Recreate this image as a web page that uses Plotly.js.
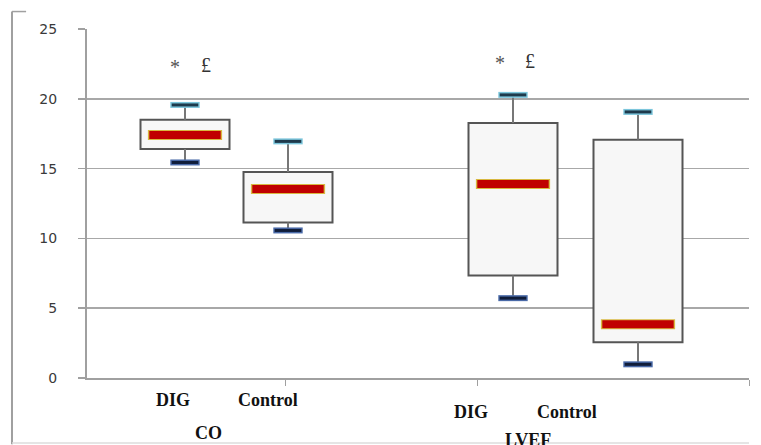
<!DOCTYPE html>
<html>
<head>
<meta charset="utf-8">
<script src="https://cdn.plot.ly/plotly-3.0.1.min.js"></script>
<style>html,body{margin:0;padding:0;background:#fff;}#chart{width:761px;height:445px;}</style>
</head>
<body>
<div id="chart"></div>
<script>
// ---- data ----
const groups = ['CO', 'LVEF'];
const categories = ['DIG', 'Control', 'DIG', 'Control'];
const upperWhisker = [19.56, 16.95, 20.28, 19.06];
const q3 = [18.5, 14.76, 18.27, 17.07];
const median = [17.4, 13.54, 13.9, 3.85];
const q1 = [16.4, 11.14, 7.34, 2.56];
const lowerWhisker = [15.44, 10.57, 5.72, 0.98];
const sigStar = ['*', '', '*', ''];
const sigPound = ['£', '', '£', ''];
const yTicks = [0, 5, 10, 15, 20, 25];

// ---- layout positions (not data) ----
const boxX = [0.98, 2.01, 4.26, 5.51];
const catLabelX = [0.86, 1.81, 3.84, 4.80];
const catLabelY = [-0.063, -0.063, -0.098, -0.098];
const groupLabelX = [1.21, 4.41];
const groupLabelY = [-0.158, -0.178];
const starX = [0.88, 0, 4.13, 0], starY = [0.892, 0, 0.904, 0];
const poundX = [1.187, 0, 4.43, 0], poundY = [0.898, 0, 0.907, 0];
const axisTickX = [1.987, 3.907, 6.62];

// whisker segments
const wx = [], wy = [];
boxX.forEach((x, i) => {
  wx.push(x, x, null, x, x, null);
  wy.push(lowerWhisker[i], q1[i], null, q3[i], upperWhisker[i], null);
});

const traces = [
  {
    type: 'bar', x: boxX, base: q1, y: q3.map((v, i) => v - q1[i]),
    width: 0.89,
    marker: {color: '#f7f7f7', line: {color: '#555555', width: 2}},
    hoverinfo: 'skip', showlegend: false
  },
  {
    type: 'scatter', mode: 'lines', x: wx, y: wy,
    line: {color: '#777777', width: 2}, hoverinfo: 'skip', showlegend: false
  },
  // caps: outline then core
  {type: 'scatter', mode: 'markers', x: boxX, y: upperWhisker, cliponaxis: false,
   marker: {symbol: 'line-ew', size: 21, line: {color: '#7cc6dc', width: 6}}, showlegend: false, hoverinfo: 'skip'},
  {type: 'scatter', mode: 'markers', x: boxX, y: upperWhisker, cliponaxis: false,
   marker: {symbol: 'line-ew', size: 19, line: {color: '#1e3a4c', width: 3}}, showlegend: false, hoverinfo: 'skip'},
  {type: 'scatter', mode: 'markers', x: boxX, y: lowerWhisker, cliponaxis: false,
   marker: {symbol: 'line-ew', size: 21, line: {color: '#4a6aa8', width: 6}}, showlegend: false, hoverinfo: 'skip'},
  {type: 'scatter', mode: 'markers', x: boxX, y: lowerWhisker, cliponaxis: false,
   marker: {symbol: 'line-ew', size: 19, line: {color: '#101d3a', width: 3}}, showlegend: false, hoverinfo: 'skip'},
  // median bars
  {type: 'scatter', mode: 'markers', x: boxX, y: median, cliponaxis: false,
   marker: {symbol: 'line-ew', size: 53, line: {color: '#d8b840', width: 10}}, showlegend: false, hoverinfo: 'skip'},
  {type: 'scatter', mode: 'markers', x: boxX, y: median, cliponaxis: false,
   marker: {symbol: 'line-ew', size: 51, line: {color: '#c00000', width: 8}}, showlegend: false, hoverinfo: 'skip'}
];

const annotations = [];
const labFont = {family: 'Liberation Serif, Times New Roman, serif', size: 18, color: '#111111'};
categories.forEach((c, i) => {
  annotations.push({text: '<b>' + c + '</b>', x: catLabelX[i], y: catLabelY[i], xref: 'x', yref: 'paper',
    showarrow: false, xanchor: 'center', yanchor: 'middle', font: labFont});
  if (sigStar[i]) annotations.push({text: sigStar[i], x: starX[i], y: starY[i], xref: 'x', yref: 'paper',
    showarrow: false, xanchor: 'center', yanchor: 'middle',
    font: {family: 'Liberation Serif, serif', size: 20, color: '#555555'}});
  if (sigPound[i]) annotations.push({text: sigPound[i], x: poundX[i], y: poundY[i], xref: 'x', yref: 'paper',
    showarrow: false, xanchor: 'center', yanchor: 'middle',
    font: {family: 'Liberation Serif, serif', size: 20, color: '#333333'}});
});
groups.forEach((g, i) => {
  annotations.push({text: '<b>' + g + '</b>', x: groupLabelX[i], y: groupLabelY[i], xref: 'x', yref: 'paper',
    showarrow: false, xanchor: 'center', yanchor: 'middle', font: labFont});
});

const layout = {
  width: 761, height: 445,
  margin: {l: 87, r: 12, t: 29, b: 67},
  paper_bgcolor: '#ffffff', plot_bgcolor: '#ffffff',
  barmode: 'overlay',
  showlegend: false,
  xaxis: {
    range: [0, 6.62], showgrid: false, zeroline: false,
    showline: true, linecolor: '#a0a0a0', linewidth: 2,
    tickmode: 'array', tickvals: axisTickX, ticks: 'outside', ticklen: 6, tickcolor: '#a0a0a0', tickwidth: 1,
    showticklabels: false, fixedrange: true
  },
  yaxis: {
    range: [0, 25], tickmode: 'array', tickvals: yTicks,
    showgrid: true, gridcolor: '#a8a8a8', gridwidth: 1.5, zeroline: false,
    showline: true, linecolor: '#a0a0a0', linewidth: 2,
    ticks: 'outside', ticklen: 7, tickcolor: '#a0a0a0', tickwidth: 1.5,
    ticklabelstandoff: 18,
    tickfont: {family: 'DejaVu Sans, Verdana, sans-serif', size: 14, color: '#3a3a3a'},
    fixedrange: true
  },
  annotations: annotations,
  shapes: [
    {type: 'line', xref: 'paper', yref: 'paper', x0: -0.1133, x1: -0.1133, y0: 1.05, y1: -0.19, line: {color: '#a0a0a0', width: 2}},
    {type: 'line', xref: 'paper', yref: 'paper', x0: -0.1133, x1: -0.092, y0: 1.05, y1: 1.05, line: {color: '#a0a0a0', width: 1.5}},
    {type: 'line', xref: 'paper', yref: 'paper', x0: -0.1133, x1: 1.0, y0: -0.1865, y1: -0.1865, line: {color: '#dddddd', width: 1.5}}
  ]
};

Plotly.newPlot('chart', traces, layout, {displayModeBar: false, staticPlot: true});
</script>
</body>
</html>
